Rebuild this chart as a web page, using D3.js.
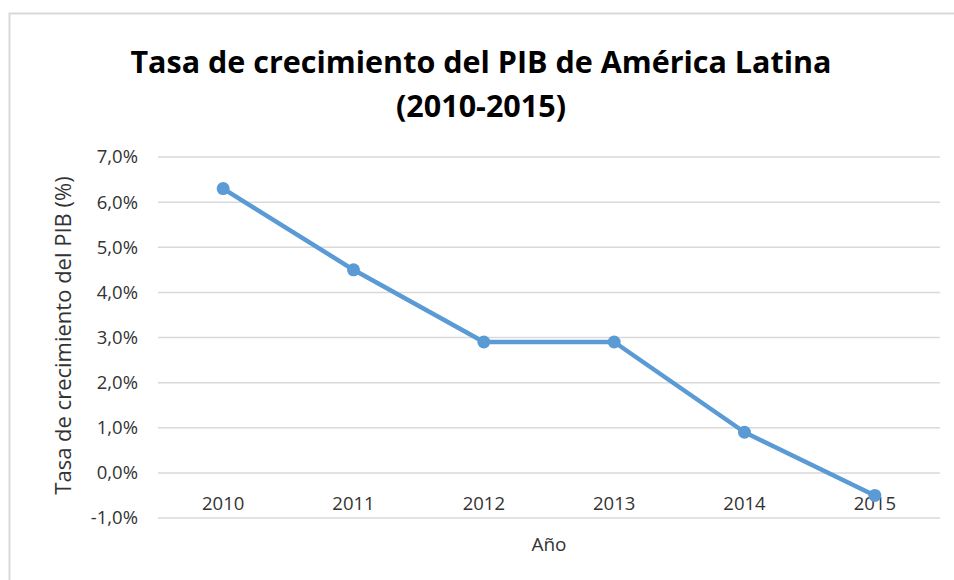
<!DOCTYPE html>
<html>
<head>
<meta charset="utf-8">
<script src="https://cdn.jsdelivr.net/npm/d3@7"></script>
<style>
  body { margin: 0; background: #fff; }
  text { font-family: "Open Sans", sans-serif; }
</style>
</head>
<body>
<svg id="chart" width="954" height="580"></svg>
<script>
const years = ["2010", "2011", "2012", "2013", "2014", "2015"];
const growth = [6.3, 4.5, 2.9, 2.9, 0.9, -0.5];
const yTicks = [-1, 0, 1, 2, 3, 4, 5, 6, 7];
const titleLines = ["Tasa de crecimiento del PIB de América Latina", "(2010-2015)"];

const svg = d3.select("#chart");
const margin = {left: 158, right: 14, top: 157, bottom: 62};
const W = 954, H = 580;

// chart frame
svg.append("rect")
    .attr("x", 9.5).attr("y", 13.5)
    .attr("width", W).attr("height", H)
    .style("fill", "#fff")
    .style("stroke", "#d9d9d9")
    .style("stroke-width", 2);

const xScale = d3.scaleBand()
    .domain(years)
    .range([margin.left, W - margin.right]);

const yScale = d3.scaleLinear()
    .domain([-1, 7])
    .range([H - margin.bottom, margin.top]);

// gridlines
svg.append("g")
    .selectAll("line")
    .data(yTicks)
    .join("line")
    .attr("x1", margin.left)
    .attr("x2", W - margin.right)
    .attr("y1", d => yScale(d))
    .attr("y2", d => yScale(d))
    .style("stroke", "#d9d9d9")
    .style("stroke-width", 1.5);

// y tick labels
const fmt = d => d.toFixed(1).replace(".", ",") + "%";
svg.append("g")
    .selectAll("text")
    .data(yTicks)
    .join("text")
    .attr("x", margin.left - 20)
    .attr("y", d => yScale(d))
    .attr("dy", "0.35em")
    .attr("text-anchor", "end")
    .style("font-size", "18.5px")
    .style("fill", "#333")
    .text(fmt);

// x labels, sitting under the zero line
svg.append("g")
    .selectAll("text")
    .data(years)
    .join("text")
    .attr("x", d => xScale(d) + xScale.bandwidth() / 2)
    .attr("y", yScale(0) + 31)
    .attr("dy", "0.35em")
    .attr("text-anchor", "middle")
    .style("font-size", "18.5px")
    .style("fill", "#333")
    .text(d => d);

// line + markers
const line = d3.line()
    .x((d, i) => xScale(years[i]) + xScale.bandwidth() / 2)
    .y(d => yScale(d));

svg.append("path")
    .datum(growth)
    .attr("d", line)
    .style("fill", "none")
    .style("stroke", "#5b9bd5")
    .style("stroke-width", 4.5)
    .style("stroke-linejoin", "round");

svg.append("g")
    .selectAll("circle")
    .data(growth)
    .join("circle")
    .attr("cx", (d, i) => xScale(years[i]) + xScale.bandwidth() / 2)
    .attr("cy", d => yScale(d))
    .attr("r", 6.5)
    .style("fill", "#5b9bd5");

// titles
svg.append("g")
    .selectAll("text")
    .data(titleLines)
    .join("text")
    .attr("x", 481)
    .attr("y", (d, i) => 73 + i * 44)
    .attr("text-anchor", "middle")
    .style("font-size", "30.5px")
    .style("font-weight", "bold")
    .style("fill", "#000")
    .text(d => d);

svg.append("text")
    .attr("transform", "translate(71," + (yScale(3) - 2) + ") rotate(-90)")
    .attr("text-anchor", "middle")
    .style("font-size", "22px")
    .style("fill", "#333")
    .text("Tasa de crecimiento del PIB (%)");

svg.append("text")
    .attr("x", xScale("2012") + xScale.bandwidth())
    .attr("y", 551)
    .attr("text-anchor", "middle")
    .style("font-size", "19px")
    .style("fill", "#333")
    .text("Año");
</script>
</body>
</html>
